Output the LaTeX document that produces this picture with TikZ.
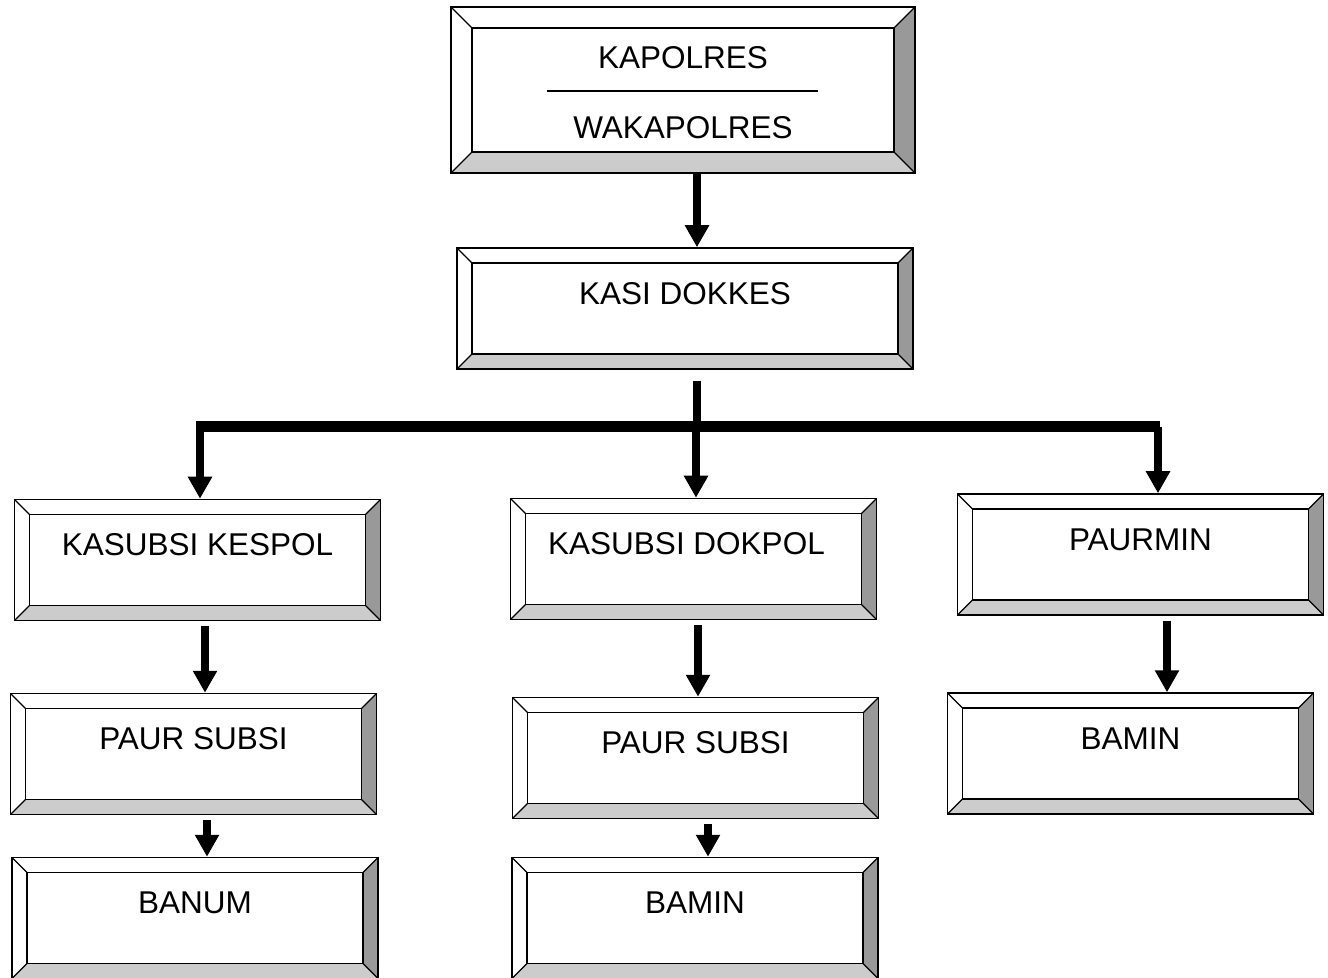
\documentclass[tikz,border=0pt]{standalone}
\usepackage{fontspec}
\setmainfont{Liberation Sans}
\usepackage{xcolor}
\definecolor{bevlight}{HTML}{CCCCCC}
\definecolor{bevdark}{HTML}{999999}
\usepackage{tikz}
\usetikzlibrary{arrows.meta, calc}

\tikzset{
	bev/.store in=\bev, bev=7.5pt,
	box/.style={draw, rectangle, fill=white, inner sep=0pt, line width=0.75pt,
		minimum width=183pt, minimum height=60.5pt,
		path picture={
			\coordinate (sw) at (path picture bounding box.south west);
			\coordinate (se) at (path picture bounding box.south east);
			\coordinate (ne) at (path picture bounding box.north east);
			\coordinate (nw) at (path picture bounding box.north west);
			\fill[bevlight] (sw) -- (se) -- ([shift={(-\bev,\bev)}]se) -- ([shift={(\bev,\bev)}]sw) -- cycle;
			\fill[bevdark] (se) -- (ne) -- ([shift={(-\bev,-\bev)}]ne) -- ([shift={(-\bev,\bev)}]se) -- cycle;
			\draw[line width=0.75pt] ([shift={(\bev,\bev)}]sw) rectangle ([shift={(-\bev,-\bev)}]ne);
			\draw[line width=0.6pt] (sw) -- ++(\bev,\bev) (se) -- ++(-\bev,\bev)
				(ne) -- ++(-\bev,-\bev) (nw) -- ++(\bev,-\bev);
		}},
	txt/.style={label={[yshift=7.5pt]center:#1}},
	shaft/.style={line width=4pt},
	arr/.style={line width=4pt, -{Triangle[width=11.5pt, length=11pt]}},
	bar/.style={line width=5.5pt}
}

\begin{document}
\begin{tikzpicture}[x=0.5pt, y=-0.5pt, font=\fontsize{15.75}{19}\selectfont]
	\useasboundingbox (0,0) rectangle (1328,978);
	
	\node[box, bev=10.5pt, minimum width=232pt, minimum height=83pt,
		label={[yshift=16.25pt]center:KAPOLRES},
		label={[yshift=-18.75pt]center:WAKAPOLRES}] (kapolres) at (683,90) {};
	\draw[line width=0.75pt] ([shift={(-68pt,-0.5pt)}]kapolres.center) -- ([shift={(67.5pt,-0.5pt)}]kapolres.center);
	
	\node[box, minimum width=228pt, txt=KASI DOKKES] (kasi) at (685,308.5) {};
	
	\node[box, txt=KASUBSI KESPOL] (kespol) at (197.5,560) {};
	\node[box, label={[shift={(-3.5pt,7.5pt)}]center:KASUBSI DOKPOL}] (dokpol) at (693.5,559) {};
	\node[box, txt=PAURMIN] (paurmin) at (1140.5,554.5) {};
	
	\node[box, txt=PAUR SUBSI] (paurkes) at (193.5,754) {};
	\node[box, txt=PAUR SUBSI] (paurdok) at (695.5,758) {};
	\node[box, txt=BAMIN] (baminur) at (1130.5,753.5) {};
	
	\node[box, txt=BANUM] (banum) at (195,918) {};
	\node[box, txt=BAMIN] (bamindok) at (695,918) {};
	
	\draw[arr] (kapolres.south -| 697,0) -- (kasi.north -| 697,0);
	\draw[shaft] (kasi.south -| 697,0) ++(0,11) -- (697,427);
	\draw[bar] (196,427) -- (1160,427);
	\foreach \name/\x in {kespol/200, dokpol/696, paurmin/1158}
		\draw[arr] (\x,427) -- (\name.north -| \x,0);
	\foreach \from/\to/\x in {kespol/paurkes/205, dokpol/paurdok/698, paurmin/baminur/1167,
		paurkes/banum/207, paurdok/bamindok/708}
		\draw[arr] (\from.south -| \x,0) ++(0,5) -- (\to.north -| \x,0);
\end{tikzpicture}
\end{document}
